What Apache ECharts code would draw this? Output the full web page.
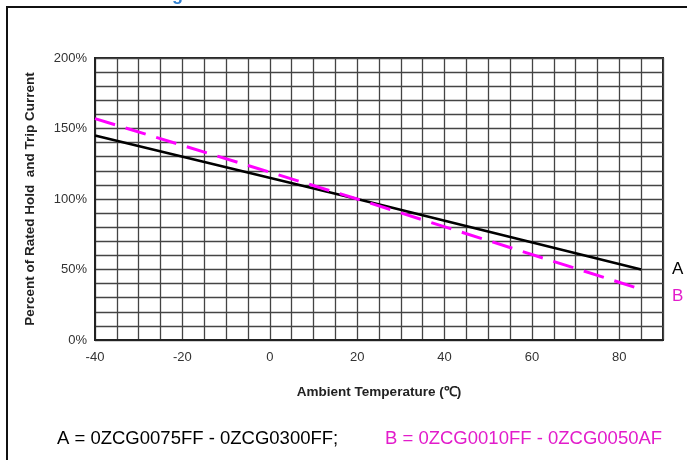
<!DOCTYPE html>
<html>
<head>
<meta charset="utf-8">
<script src="https://cdn.jsdelivr.net/npm/echarts@6/dist/echarts.min.js"></script>
<style>html,body{margin:0;padding:0;background:#fff;}#c{width:687px;height:460px;}</style>
</head>
<body>
<div id="c"></div>
<script>
const temps = [-40, 20, 85];
const seriesA = [145, 100, 50];
const seriesB = [157, 100, 36];
const xTickLabels = [-40, -20, 0, 20, 40, 60, 80];
const yTickLabels = ['0%', '50%', '100%', '150%', '200%'];
const xTitle = 'Ambient Temperature (℃)';
const yTitle = 'Percent of Rated Hold  and Trip Current';
const legendA = 'A = 0ZCG0075FF - 0ZCG0300FF;';
const legendB = 'B = 0ZCG0010FF - 0ZCG0050AF';

const chart = echarts.init(document.getElementById('c'));
const font = '"Liberation Sans", Arial, sans-serif';
const magenta = '#ff00ff';
const magentaText = '#e21ccb';
chart.setOption({
  animation: false,
  backgroundColor: '#fff',
  grid: { left: 95, right: 24, top: 58, bottom: 120, show: true, borderColor: '#222', borderWidth: 2 },
  xAxis: {
    type: 'value', min: -40, max: 90, interval: 5,
    axisLine: { show: true, onZero: false, lineStyle: { color: '#222', width: 2 } },
    axisTick: { show: false },
    splitLine: { show: true, lineStyle: { color: '#444', width: 1.3 } },
    axisLabel: {
      color: '#333', fontFamily: font, fontSize: 13, margin: 11,
      formatter: v => xTickLabels.includes(v) ? String(v) : ''
    },
    name: xTitle, nameLocation: 'middle', nameGap: 45,
    nameTextStyle: { color: '#222', fontFamily: font, fontSize: 13.5, fontWeight: 'bold' }
  },
  yAxis: {
    type: 'value', min: 0, max: 200, interval: 10,
    axisLine: { show: true, onZero: false, lineStyle: { color: '#222', width: 2 } },
    axisTick: { show: false },
    splitLine: { show: true, lineStyle: { color: '#444', width: 1.3 } },
    axisLabel: {
      color: '#333', fontFamily: font, fontSize: 13, margin: 8,
      formatter: v => { const s = v + '%'; return yTickLabels.includes(s) ? s : ''; }
    },
    name: yTitle, nameLocation: 'middle', nameGap: 58, nameRotate: 90,
    nameTextStyle: { color: '#222', fontFamily: font, fontSize: 13.5, fontWeight: 'bold' }
  },
  series: [
    { name: 'A', type: 'line', data: temps.map((t, i) => [t, seriesA[i]]), showSymbol: false,
      lineStyle: { color: '#000', width: 2.5 }, z: 3 },
    { name: 'B', type: 'line', data: temps.map((t, i) => [t, seriesB[i]]), showSymbol: false,
      lineStyle: { color: magenta, width: 3, type: [21, 11] }, z: 4 }
  ],
  graphic: [
    { type: 'rect', shape: { x: 7, y: 7, width: 700, height: 480 }, style: { fill: 'none', stroke: '#111', lineWidth: 2 }, silent: true },
    { type: 'text', left: 172, top: -14, style: { text: 'g', fill: '#2f7fd0', font: 'bold 18px ' + font } },
    { type: 'text', left: 672, top: 261, style: { text: 'A', fill: '#000', font: '17px ' + font } },
    { type: 'text', left: 672, top: 288, style: { text: 'B', fill: magentaText, font: '17px ' + font } },
    { type: 'text', left: 57, top: 429, style: { text: legendA, fill: '#000', font: '18.5px ' + font } },
    { type: 'text', left: 385, top: 429, style: { text: legendB, fill: magentaText, font: '18.5px ' + font } }
  ]
});
</script>
</body>
</html>
